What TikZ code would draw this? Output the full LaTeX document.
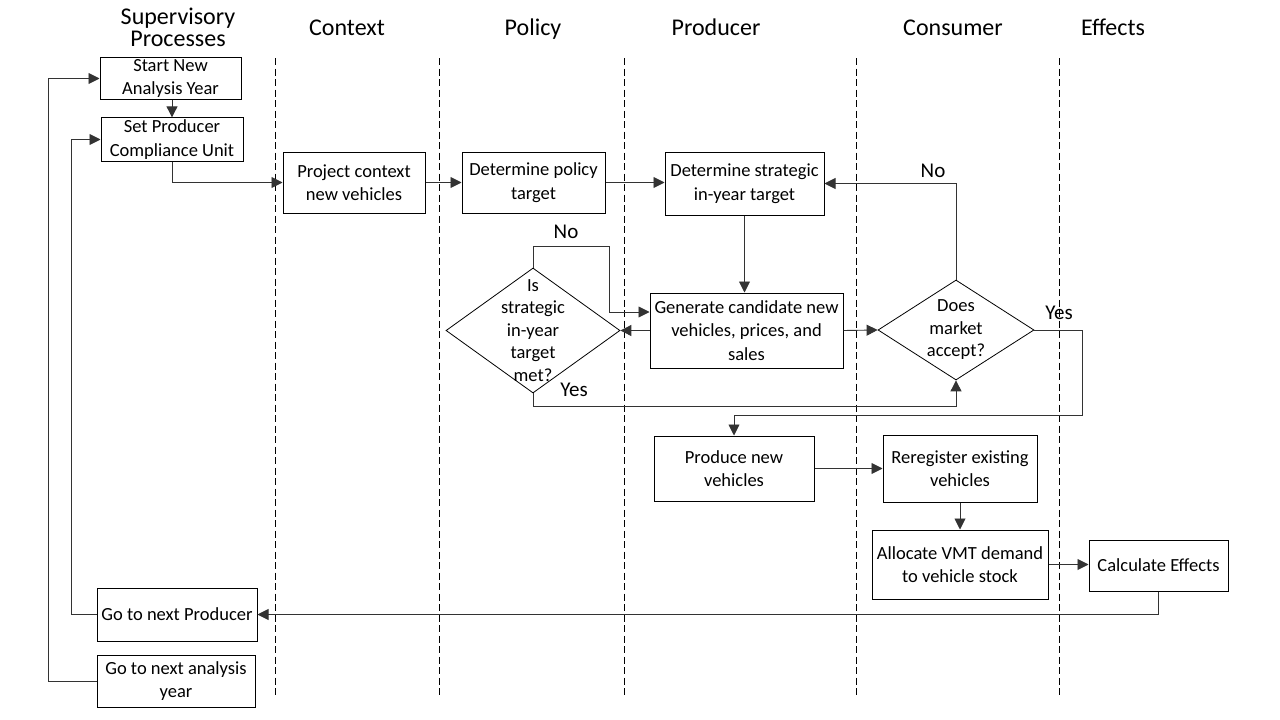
\documentclass[tikz,border=0pt]{standalone}
\usepackage{fontspec}
\setmainfont{Carlito}
\usetikzlibrary{arrows.meta,shapes.geometric,calc}
\tikzset{
  box/.style={draw=black,line width=1pt,align=center,inner sep=2pt,font=\fontsize{18.5}{23.5}\selectfont},
  dia/.style={draw=black,line width=0.8pt,shape=diamond,inner sep=0pt},
  diatext/.style={align=center,font=\fontsize{18.5}{22.5}\selectfont},
  head/.style={align=center,font=\fontsize{24}{22}\selectfont},
  lbl/.style={font=\fontsize{21}{24}\selectfont},
  arr/.style={draw=black!80,line width=0.9pt,-{Triangle[length=11pt,width=11pt]}},
  lane/.style={draw=black,line width=0.8pt,dash pattern=on 7pt off 3.5pt}
}
\begin{document}
\begin{tikzpicture}[x=1pt,y=-1pt]
\useasboundingbox (0,0) rectangle (1280,720);
\fill[white] (0,0) rectangle (1280,720);
% headers
\node[head] (hsup) at (178,27.5) {Supervisory\\Processes};
\node[head,anchor=base] (hctx) at (347,35) {Context};
\node[head,anchor=base] (hpol) at (533,35) {Policy};
\node[head,anchor=base] (hpro) at (716,35) {Producer};
\node[head,anchor=base] (hcon) at (953,35) {Consumer};
\node[head,anchor=base] (heff) at (1113,35) {Effects};
% lanes
\foreach \x in {275,439,624,856,1059} { \draw[lane] (\x,58) -- (\x,698); }
% boxes
\node[box,minimum width=141,minimum height=41] (start) at (170.5,78.5) {Start New\\Analysis Year};
\node[box,minimum width=142,minimum height=41] (setp) at (172,139.5) {Set Producer\\Compliance Unit};
\node[box,minimum width=142,minimum height=61] (proj) at (354,182.5) {Project context\\new vehicles};
\node[box,minimum width=143,minimum height=61] (pol) at (533.5,182.5) {Determine policy\\target};
\node[box,minimum width=159,minimum height=63] (strat) at (744.5,183.5) {Determine strategic\\in-year target};
\node[box,minimum width=193,minimum height=75] (gen) at (746.5,330.5) {Generate candidate new\\vehicles, prices, and\\sales};
\node[dia,minimum width=174,minimum height=125] (ismet) at (533,330.5) {};
\node[diatext] (ismett) at (ismet.center) {Is\\strategic\\in-year\\target\\met?};
\node[dia,minimum width=156,minimum height=100] (market) at (956,330) {};
\node[diatext] (markett) at (market.center) {Does\\market\\accept?};
\node[box,minimum width=160,minimum height=65] (produce) at (734,468.5) {Produce new\\vehicles};
\node[box,minimum width=154,minimum height=67] (rereg) at (960,468.5) {Reregister existing\\vehicles};
\node[box,minimum width=176,minimum height=69] (alloc) at (960,564.5) {Allocate VMT demand\\to vehicle stock};
\node[box,minimum width=139,minimum height=51] (calc) at (1158.5,565.5) {Calculate Effects};
\node[box,minimum width=160,minimum height=53] (gonp) at (177,614.5) {Go to next Producer};
\node[box,minimum width=158,minimum height=52] (gony) at (176,681) {Go to next analysis\\year};
% coordinates
\coordinate (c1) at (609,246);
\coordinate (c2) at (956,406);
\coordinate (c3) at (1082,415);
% connectors
\draw[arr] (setp.north |- start.south) -- (setp.north);
\draw[arr] (setp.south) |- (proj.west);
\draw[arr] (proj.east) -- (pol.west);
\draw[arr] (pol.east) -- (pol.east -| strat.west);
\draw[arr] (strat.south) -- (strat.south |- gen.north);
\draw[arr] (gen.west) -- (ismet.east);
\draw[arr] (ismet.north) |- (c1) |- ([yshift=18.5pt]gen.west);
\draw[arr] (ismet.south) |- (c2) -- (market.south);
\draw[arr] (gen.east) -- (market.west);
\draw[arr] (market.north) |- (strat.east);
\draw[arr] (market.east) -| (c3) -| (produce.north);
\draw[arr] (produce.east) -- (rereg.west);
\draw[arr] (rereg.south) -- (alloc.north);
\draw[arr] (alloc.east) -- (alloc.east -| calc.west);
\draw[arr] (calc.south) |- (gonp.east);
\draw[arr] (gonp.west) -- ++(-25,0) |- (setp.west);
\draw[arr] (gony.west) -- ++(-48,0) |- (start.west);
% labels
\node[lbl] (lno1) at (566,232) {No};
\node[lbl] (lyes1) at (574,390) {Yes};
\node[lbl] (lno2) at (933,171) {No};
\node[lbl] (lyes2) at (1059,313) {Yes};
\end{tikzpicture}
\end{document}
